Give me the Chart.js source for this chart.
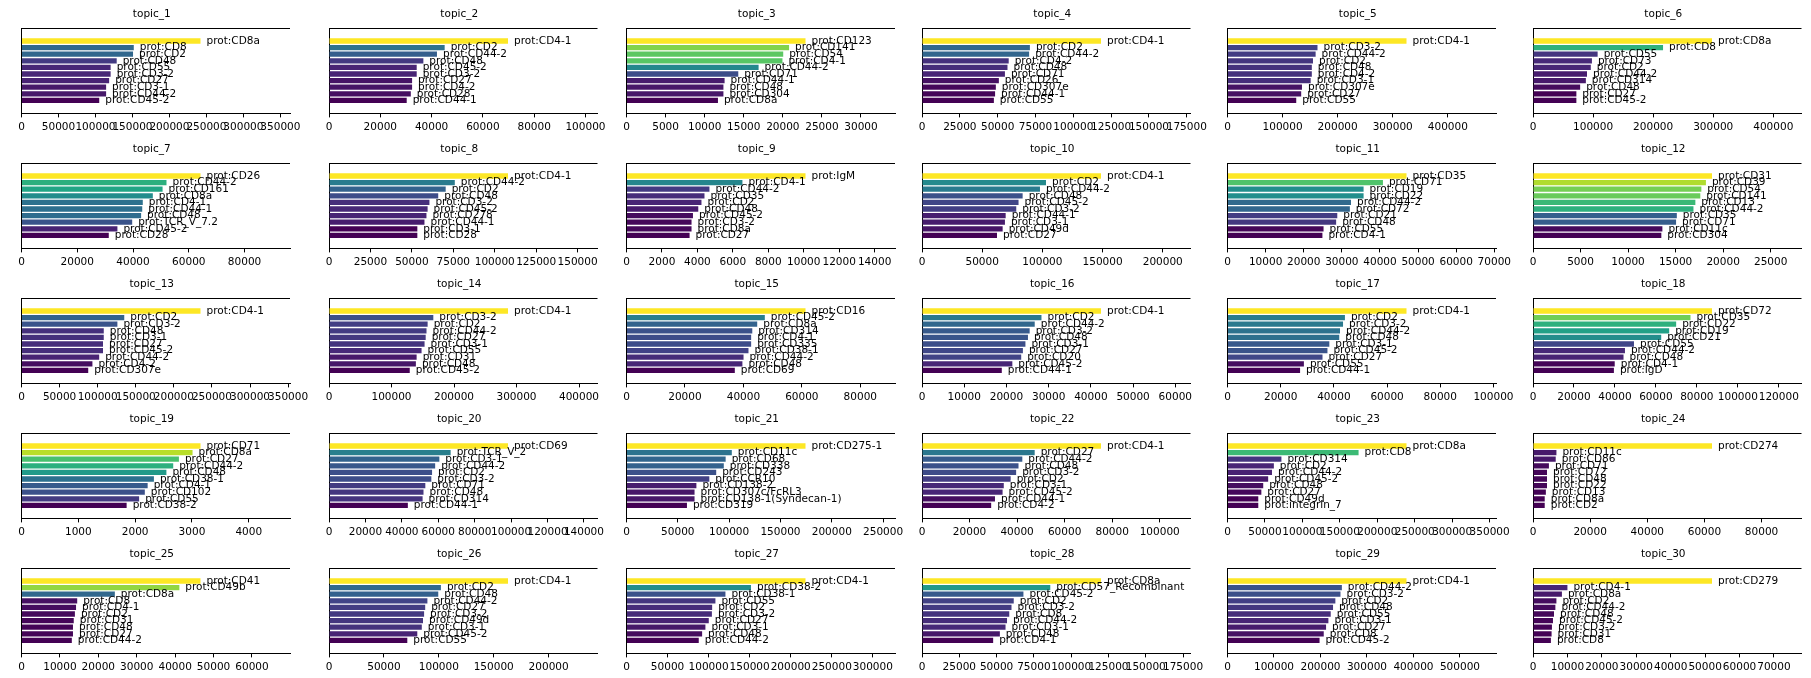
<!DOCTYPE html>
<html>
<head>
<meta charset="utf-8">
<title>topic proteins</title>
<script src="https://cdn.jsdelivr.net/npm/chart.js@4.4.1/dist/chart.umd.min.js"></script>
<style>
  html, body { margin: 0; padding: 0; background: #fff; }
  #board { position: relative; width: 1811px; height: 678px; overflow: hidden; }
  #board canvas { position: absolute; }
</style>
</head>
<body>
<div id="board"></div>
<script>
const topicTitles = Array.from({ length: 30 }, (_, i) => `topic_${i + 1}`);

const proteinLabels = [
  ["CD8a", "CD8", "CD2", "CD48", "CD55", "CD3-2", "CD27", "CD3-1", "CD44-2", "CD45-2"],
  ["CD4-1", "CD2", "CD44-2", "CD48", "CD45-2", "CD3-2", "CD27", "CD4-2", "CD28", "CD44-1"],
  ["CD123", "CD141", "CD54", "CD4-1", "CD44-2", "CD71", "CD44-1", "CD48", "CD304", "CD8a"],
  ["CD4-1", "CD2", "CD44-2", "CD4-2", "CD48", "CD71", "CD26", "CD307e", "CD44-1", "CD55"],
  ["CD4-1", "CD3-2", "CD44-2", "CD2", "CD48", "CD4-2", "CD3-1", "CD307e", "CD27", "CD55"],
  ["CD8a", "CD8", "CD55", "CD73", "CD2", "CD44-2", "CD314", "CD48", "CD27", "CD45-2"],
  ["CD26", "CD44-2", "CD161", "CD8a", "CD4-1", "CD44-1", "CD48", "TCR_V_7.2", "CD45-2", "CD28"],
  ["CD4-1", "CD44-2", "CD2", "CD48", "CD3-2", "CD45-2", "CD278", "CD44-1", "CD3-1", "CD28"],
  ["IgM", "CD4-1", "CD44-2", "CD35", "CD2", "CD48", "CD45-2", "CD3-2", "CD8a", "CD27"],
  ["CD4-1", "CD2", "CD44-2", "CD48", "CD45-2", "CD3-2", "CD44-1", "CD3-1", "CD49d", "CD27"],
  ["CD35", "CD71", "CD19", "CD22", "CD44-2", "CD72", "CD21", "CD48", "CD55", "CD4-1"],
  ["CD31", "CD39", "CD54", "CD141", "CD13", "CD44-2", "CD35", "CD71", "CD11c", "CD304"],
  ["CD4-1", "CD2", "CD3-2", "CD48", "CD3-1", "CD27", "CD45-2", "CD44-2", "CD4-2", "CD307e"],
  ["CD4-1", "CD3-2", "CD2", "CD44-2", "CD27", "CD3-1", "CD55", "CD31", "CD48", "CD45-2"],
  ["CD16", "CD45-2", "CD8a", "CD314", "CD4-1", "CD335", "CD38-1", "CD44-2", "CD48", "CD69"],
  ["CD4-1", "CD2", "CD44-2", "CD3-2", "CD48", "CD3-1", "CD27", "CD20", "CD45-2", "CD44-1"],
  ["CD4-1", "CD2", "CD3-2", "CD44-2", "CD48", "CD3-1", "CD45-2", "CD27", "CD55", "CD44-1"],
  ["CD72", "CD35", "CD22", "CD19", "CD21", "CD55", "CD44-2", "CD48", "CD4-1", "IgD"],
  ["CD71", "CD8a", "CD27", "CD44-2", "CD48", "CD38-1", "CD4-1", "CD102", "CD55", "CD38-2"],
  ["CD69", "TCR_V_2", "CD3-1", "CD44-2", "CD2", "CD3-2", "CD71", "CD48", "CD314", "CD44-1"],
  ["CD275-1", "CD11c", "CD68", "CD338", "CD243", "CCR10", "CD138-2", "CD307c/FcRL3", "CD138-1(Syndecan-1)", "CD319"],
  ["CD4-1", "CD27", "CD44-2", "CD48", "CD3-2", "CD2", "CD3-1", "CD45-2", "CD44-1", "CD4-2"],
  ["CD8a", "CD8", "CD314", "CD2", "CD44-2", "CD45-2", "CD48", "CD27", "CD49d", "integrin_7"],
  ["CD274", "CD11c", "CD86", "CD71", "CD72", "CD48", "CD22", "CD13", "CD8a", "CD2"],
  ["CD41", "CD49b", "CD8a", "CD8", "CD4-1", "CD2", "CD31", "CD48", "CD27", "CD44-2"],
  ["CD4-1", "CD2", "CD48", "CD44-2", "CD27", "CD3-2", "CD49d", "CD3-1", "CD45-2", "CD55"],
  ["CD4-1", "CD38-2", "CD38-1", "CD55", "CD2", "CD3-2", "CD27", "CD3-1", "CD48", "CD44-2"],
  ["CD8a", "CD57_Recombinant", "CD45-2", "CD2", "CD3-2", "CD8", "CD44-2", "CD3-1", "CD48", "CD4-1"],
  ["CD4-1", "CD44-2", "CD3-2", "CD2", "CD48", "CD55", "CD3-1", "CD27", "CD8", "CD45-2"],
  ["CD279", "CD4-1", "CD8a", "CD2", "CD44-2", "CD48", "CD45-2", "CD3-2", "CD31", "CD8"]
];

const topicWeights = [
  [242000, 151800, 150800, 128700, 120500, 120500, 118500, 114400, 114400, 105100],
  [69800, 45100, 42100, 36800, 34200, 34200, 32400, 32400, 31900, 30300],
  [22900, 20800, 20050, 19950, 16900, 14300, 12550, 12400, 12400, 11700],
  [118300, 71300, 70800, 57300, 56500, 54800, 50800, 48800, 48300, 47500],
  [325000, 163400, 160000, 155200, 153100, 153100, 151000, 135200, 133800, 124800],
  [298000, 216500, 107600, 98100, 96200, 89900, 88000, 78500, 72200, 72200],
  [64200, 52000, 50600, 47100, 43500, 43300, 42900, 39700, 34400, 31300],
  [108000, 75900, 70400, 65900, 60600, 59500, 58800, 57600, 53300, 53300],
  [10100, 6540, 4680, 4400, 4230, 4050, 3750, 3670, 3670, 3560],
  [148700, 103000, 98000, 83600, 80200, 78300, 69500, 68900, 67000, 62300],
  [46960, 40780, 35700, 35700, 32400, 32100, 28800, 28500, 25200, 24900],
  [18830, 18190, 17710, 17600, 17080, 16880, 15130, 15050, 13610, 13500],
  [235000, 134900, 125900, 108000, 108000, 107000, 107000, 102000, 93100, 87600],
  [286400, 166900, 157800, 156000, 154700, 152900, 148100, 140200, 139000, 129200],
  [61250, 47330, 44730, 43040, 42650, 42650, 41740, 40050, 39660, 37060],
  [42400, 28300, 26700, 25500, 25100, 24500, 23900, 23500, 21400, 18900],
  [67300, 44150, 43440, 42300, 42010, 38290, 37580, 35720, 28720, 27290],
  [87400, 76900, 69900, 66500, 62600, 49300, 44900, 44200, 39900, 39500],
  [3150, 3010, 2770, 2670, 2550, 2330, 2220, 2170, 2070, 1850],
  [98300, 66800, 60600, 58300, 56600, 56200, 52900, 51900, 51400, 43300],
  [174400, 102600, 96600, 94800, 87400, 80700, 68100, 66300, 66300, 58900],
  [75300, 47400, 42200, 40600, 39600, 37300, 34400, 33900, 30700, 29100],
  [239000, 175000, 72000, 61900, 59400, 54300, 47700, 45200, 41100, 41100],
  [62650, 8200, 7950, 5570, 4900, 4900, 4900, 4500, 4100, 4100],
  [46600, 41100, 24300, 14500, 14200, 13900, 13600, 13400, 13400, 13100],
  [163000, 101900, 99500, 89600, 87600, 86600, 85600, 84500, 80400, 71300],
  [218000, 151600, 120500, 108300, 104300, 104000, 100200, 96100, 92100, 88000],
  [120000, 86000, 68000, 61500, 60000, 58500, 57000, 56000, 52200, 47700],
  [385000, 246000, 243000, 232000, 227000, 222000, 217000, 212000, 207000, 198000],
  [52000, 10000, 8400, 6800, 6500, 6100, 5800, 5500, 5400, 5200]
];

// x tick spacing
const tickSteps = [
  50000, 20000, 5000, 25000, 100000, 100000,
  20000, 25000, 2000, 50000, 10000, 5000,
  50000, 100000, 20000, 10000, 20000, 20000,
  1000, 20000, 50000, 20000, 50000, 20000,
  10000, 50000, 50000, 25000, 100000, 10000
];

const viridisStops = [
  [68, 1, 84], [72, 36, 117], [65, 68, 135], [53, 95, 141], [42, 120, 142],
  [33, 145, 140], [34, 168, 132], [68, 191, 112], [122, 209, 81], [189, 223, 38], [253, 231, 37]
];

function viridis(t) {
  const s = Math.max(0, Math.min(1, t)) * (viridisStops.length - 1);
  const i = Math.min(Math.floor(s), viridisStops.length - 2);
  const f = s - i;
  const a = viridisStops[i], b = viridisStops[i + 1];
  const c = a.map((v, j) => Math.round(v + (b[j] - v) * f));
  return `rgb(${c[0]}, ${c[1]}, ${c[2]})`;
}

const FONT = "'DejaVu Sans', sans-serif";
Chart.defaults.font.family = FONT;
Chart.defaults.font.size = 10.5;
Chart.defaults.color = "#000";

// panel geometry (axes box of each subplot)
const colLefts = [13.5, 321, 618.5, 914, 1219.5, 1525];
const rowTops = [28, 163, 298, 433, 568];
const AX_W = 276.5;
const TITLE_H = 27;
const CANVAS_W = 322;
const CANVAS_H = 137;

const barLabels = {
  id: "barLabels",
  afterDatasetsDraw(chart, args, opts) {
    const ctx = chart.ctx;
    const meta = chart.getDatasetMeta(0);
    ctx.save();
    ctx.font = `10.5px ${FONT}`;
    ctx.fillStyle = "#000";
    ctx.textAlign = "left";
    ctx.textBaseline = "middle";
    meta.data.forEach((bar, i) => {
      ctx.fillText(opts.names[i], bar.x + 6, bar.y);
    });
    ctx.restore();
  }
};

const topSpine = {
  id: "topSpine",
  afterDraw(chart) {
    const { ctx, chartArea } = chart;
    const y = Math.round(chartArea.top) + 0.5;
    ctx.save();
    ctx.strokeStyle = "#000";
    ctx.lineWidth = 1;
    ctx.beginPath();
    ctx.moveTo(chartArea.left, y);
    ctx.lineTo(chartArea.right, y);
    ctx.stroke();
    ctx.restore();
  }
};

const board = document.getElementById("board");

topicTitles.forEach((title, k) => {
  const col = k % 6;
  const row = Math.floor(k / 6);
  const vals = topicWeights[k];
  const names = proteinLabels[k].map((p) => `prot:${p}`);
  const hi = Math.max(...vals);
  const lo = Math.min(...vals);
  const step = tickSteps[k];

  const axLeft = colLefts[col];
  const cLeft = Math.round(axLeft - 22);
  const padL = axLeft - cLeft;
  const padR = CANVAS_W - padL - AX_W;

  const cv = document.createElement("canvas");
  cv.width = CANVAS_W;
  cv.height = CANVAS_H;
  cv.style.left = cLeft + "px";
  cv.style.top = rowTops[row] - TITLE_H + "px";
  board.appendChild(cv);

  new Chart(cv, {
    type: "bar",
    data: {
      datasets: [
        {
          data: vals.map((v, i) => ({ x: v, y: i })),
          backgroundColor: vals.map((v) => viridis((v - lo) / (hi - lo))),
          borderWidth: 0,
          barPercentage: 0.8,
          categoryPercentage: 1.0
        }
      ]
    },
    options: {
      indexAxis: "y",
      responsive: false,
      animation: false,
      devicePixelRatio: 1,
      layout: { padding: { left: padL, right: padR, top: 0, bottom: 0 } },
      scales: {
        x: {
          type: "linear",
          min: 0,
          max: hi * 1.5,
          afterBuildTicks: (scale) => {
            const ticks = [];
            for (let v = 0; v <= scale.max + 1e-9; v += step) ticks.push({ value: v });
            scale.ticks = ticks;
          },
          ticks: {
            autoSkip: false,
            maxRotation: 0,
            padding: 4,
            color: "#000",
            callback: (v) => String(v)
          },
          grid: { drawOnChartArea: false, drawTicks: true, tickLength: 4, color: "#000" },
          border: { color: "#000", width: 1 }
        },
        y: {
          type: "linear",
          reverse: true,
          min: -0.89,
          max: 9.89,
          ticks: { display: false },
          grid: { display: false },
          border: { color: "#000", width: 1 }
        }
      },
      plugins: {
        legend: { display: false },
        tooltip: { enabled: false },
        title: {
          display: true,
          text: title,
          color: "#000",
          font: { size: 10.5, weight: "normal" },
          padding: { top: 7, bottom: 7.4 }
        },
        barLabels: { names }
      }
    },
    plugins: [barLabels, topSpine]
  });
});
</script>
</body>
</html>
